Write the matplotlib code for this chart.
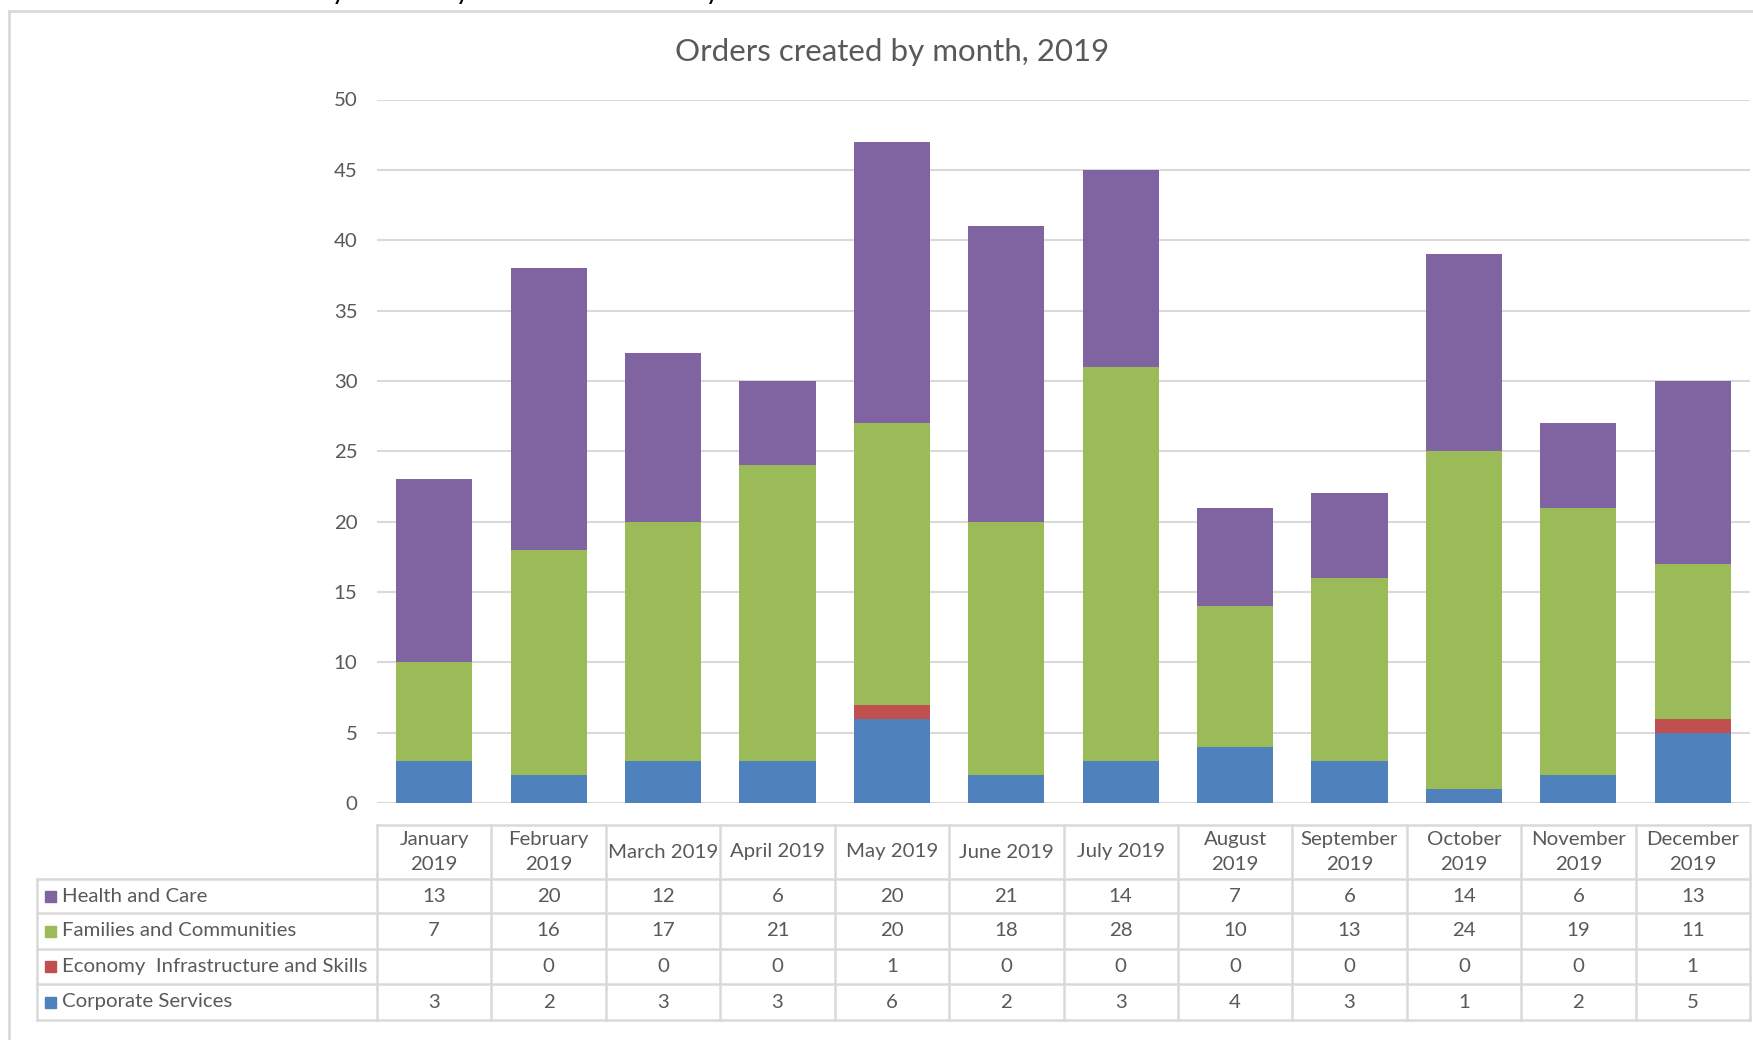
import numpy as np
import matplotlib.pyplot as plt
from matplotlib.transforms import blended_transform_factory
from matplotlib.patches import Rectangle
from matplotlib.lines import Line2D

# data
months = ["January 2019", "February 2019", "March 2019", "April 2019", "May 2019",
          "June 2019", "July 2019", "August 2019", "September 2019", "October 2019",
          "November 2019", "December 2019"]
header_labels = ["January\n2019", "February\n2019", "March 2019", "April 2019", "May 2019",
                 "June 2019", "July 2019", "August\n2019", "September\n2019", "October\n2019",
                 "November\n2019", "December\n2019"]
health = [13, 20, 12, 6, 20, 21, 14, 7, 6, 14, 6, 13]
families = [7, 16, 17, 21, 20, 18, 28, 10, 13, 24, 19, 11]
economy = [None, 0, 0, 0, 1, 0, 0, 0, 0, 0, 0, 1]
corporate = [3, 2, 3, 3, 6, 2, 3, 4, 3, 1, 2, 5]

names = ["Corporate Services", "Economy  Infrastructure and Skills",
         "Families and Communities", "Health and Care"]
colors = ["#4F81BD", "#C0504D", "#9BBB59", "#8064A2"]

W, H = 1753, 1040
FONT = "Lato"
TXT = "#595959"
GRID = "#d9d9d9"
FS = 14.7

plt.rcParams['font.family'] = [FONT, 'DejaVu Sans']

fig = plt.figure(figsize=(W / 100, H / 100), dpi=100)
ax = fig.add_axes([377 / W, 1 - 803 / H, (1750 - 377) / W, (803 - 99.5) / H])

x = np.arange(len(months))
series = [corporate, [v if v is not None else 0 for v in economy], families, health]
bottom = np.zeros(len(months))
for vals, c in zip(series, colors):
    vals = np.array(vals, dtype=float)
    ax.bar(x, vals, width=0.665, bottom=bottom, color=c, zorder=3)
    bottom += vals

ax.set_xlim(-0.5, len(months) - 0.5)
ax.set_ylim(0, 50)
ax.set_yticks(np.arange(0, 51, 5))
ax.tick_params(axis='y', length=0, pad=14, labelsize=FS, labelcolor=TXT)
ax.set_xticks([])
ax.grid(axis='y', color=GRID, linewidth=1.5, zorder=0)
for s in ax.spines.values():
    s.set_visible(False)

fig.text(892 / W, 1 - 52 / H, "Orders created by month, 2019", ha='center', va='center',
         fontsize=22.5, color=TXT)

# data table under the chart
tr = blended_transform_factory(ax.transData, fig.transFigure)
col_w = 114.4
left_x = -0.5 - (377 - 37) / col_w
ys = [1 - v / H for v in [825, 879, 913, 949, 984, 1020]]

def hline(x0, x1, y):
    ax.add_line(Line2D([x0, x1], [y, y], transform=tr, color=GRID, lw=1.8, clip_on=False))

def vline(xx, y0, y1):
    ax.add_line(Line2D([xx, xx], [y0, y1], transform=tr, color=GRID, lw=1.8, clip_on=False))

hline(-0.5, len(months) - 0.5, ys[0])
for y in ys[1:]:
    hline(left_x, len(months) - 0.5, y)
for k in range(len(months) + 1):
    vline(-0.5 + k, ys[0], ys[-1])
vline(left_x, ys[1], ys[-1])

for i, lab in enumerate(header_labels):
    ax.text(i, (ys[0] + ys[1]) / 2, lab, transform=tr, ha='center', va='center',
            fontsize=FS, color=TXT, linespacing=1.6, clip_on=False)

rows = [(names[3], health, colors[3]), (names[2], families, colors[2]),
        (names[1], economy, colors[1]), (names[0], corporate, colors[0])]
sq_x = -0.5 - (377 - 45) / col_w
lab_x = -0.5 - (377 - 62) / col_w
for r, (name, vals, c) in enumerate(rows):
    yc = (ys[r + 1] + ys[r + 2]) / 2
    ax.add_patch(Rectangle((sq_x, yc - 5.5 / H), 11 / col_w, 11 / H, transform=tr,
                           color=c, clip_on=False))
    ax.text(lab_x, yc, name, transform=tr, ha='left', va='center', fontsize=FS,
            color=TXT, clip_on=False)
    for i, v in enumerate(vals):
        if v is None:
            continue
        ax.text(i, yc, str(v), transform=tr, ha='center', va='center', fontsize=FS,
                color=TXT, clip_on=False)

# chart border and clipped caption at the very top
fig.add_artist(Line2D([9 / W, 9 / W], [0, 1 - 11 / H], color=GRID, lw=2))
fig.add_artist(Line2D([9 / W, 1], [1 - 11 / H, 1 - 11 / H], color=GRID, lw=2))
fig.text(20 / W, 1 + 1 / H, "Table 5: Orders created by month by Directorate January 2019 - December 2019",
         ha='left', va='baseline', fontsize=20, color='black')

fig.savefig("out.png", dpi=100)
